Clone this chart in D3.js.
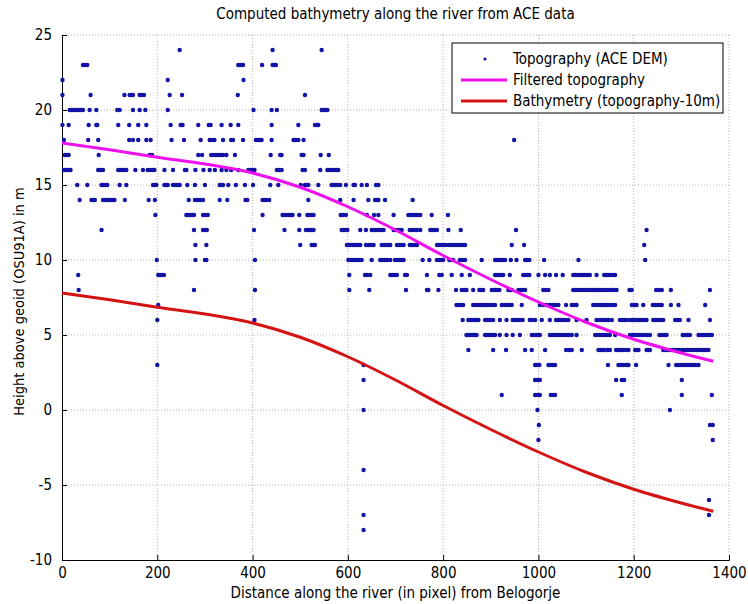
<!DOCTYPE html>
<html>
<head>
<meta charset="utf-8">
<script src="https://cdn.jsdelivr.net/npm/d3@7"></script>
<style>
  body { margin: 0; background: #fff; }
  text { font-family: "Liberation Sans Narrow", "Arial Narrow", "DejaVu Sans Condensed", sans-serif; fill: #000; }
</style>
</head>
<body>
<div id="chart"></div>
<script>
// Axis ticks
const xTicks = [0, 200, 400, 600, 800, 1000, 1200, 1400];
const yTicks = [-10, -5, 0, 5, 10, 15, 20, 25];

// Filtered topography curve and bathymetry (topography - 10 m)
const curveX = [0, 100, 200, 300, 400, 500, 600, 700, 800, 900, 1000, 1100, 1200, 1300, 1367];
const filteredY = [17.8, 17.35, 16.85, 16.4, 15.8, 14.85, 13.55, 12.0, 10.3, 8.7, 7.2, 5.85, 4.72, 3.8, 3.25];
const bathyY = [7.8, 7.35, 6.85, 6.4, 5.8, 4.85, 3.55, 2.0, 0.3, -1.3, -2.8, -4.15, -5.28, -6.2, -6.75];

// ACE DEM samples: one row per height (m), distances along the river
const topoRows = [
  [24, [247, 442, 545]],
  [23, [44, 48, 53, 370, 375, 380, 420, 442, 446, 449]],
  [22, [1, 222, 381]],
  [21, [1, 60, 131, 142, 146, 149, 163, 167, 172, 226, 252, 369, 510]],
  [20, [16, 20, 24, 28, 32, 36, 40, 44, 58, 72, 116, 121, 149, 163, 175, 222, 402, 440, 451, 545, 549, 553, 557]],
  [19, [1, 14, 56, 72, 74, 118, 141, 160, 177, 228, 249, 253, 286, 308, 312, 335, 354, 370, 440, 496, 531, 535, 538]],
  [18, [4, 55, 76, 141, 149, 160, 177, 186, 230, 256, 291, 310, 315, 320, 338, 355, 359, 380, 407, 411, 415, 419, 440, 486, 491, 496, 507, 949]],
  [17, [6, 10, 14, 77, 184, 189, 286, 294, 313, 318, 323, 328, 333, 338, 345, 363, 438, 458, 461, 503, 507, 543, 560]],
  [16, [4, 8, 12, 16, 18, 76, 81, 86, 118, 122, 126, 130, 135, 154, 170, 180, 185, 190, 194, 215, 233, 258, 261, 280, 297, 310, 321, 335, 345, 355, 370, 391, 395, 400, 404, 451, 456, 461, 505, 510, 542, 557, 561, 565, 569, 573, 577, 580]],
  [15, [32, 53, 83, 87, 91, 95, 121, 135, 191, 195, 198, 215, 219, 222, 233, 237, 241, 245, 247, 263, 279, 300, 331, 335, 338, 349, 365, 384, 401, 437, 454, 501, 510, 514, 517, 538, 566, 570, 574, 578, 584, 596, 612, 615, 629, 640, 659, 664]],
  [14, [37, 62, 66, 69, 86, 90, 94, 98, 102, 106, 110, 132, 182, 195, 266, 279, 284, 290, 296, 331, 347, 385, 389, 421, 425, 429, 435, 517, 584, 612, 643, 657, 661, 664, 678, 736]],
  [13, [196, 261, 265, 269, 273, 277, 296, 301, 306, 421, 463, 467, 471, 476, 480, 484, 498, 515, 519, 523, 528, 585, 590, 596, 640, 655, 664, 696, 727, 731, 735, 739, 743, 747, 752, 776, 810]],
  [12, [83, 277, 296, 300, 304, 403, 467, 498, 512, 516, 520, 524, 528, 587, 591, 595, 599, 626, 638, 650, 654, 658, 662, 666, 670, 675, 696, 700, 705, 709, 713, 730, 735, 740, 745, 752, 773, 777, 782, 787, 811, 837, 953, 1227]],
  [11, [280, 303, 500, 524, 528, 531, 598, 602, 606, 610, 614, 618, 622, 626, 638, 643, 648, 654, 671, 676, 681, 685, 689, 703, 708, 712, 717, 730, 735, 740, 745, 787, 791, 796, 801, 806, 812, 818, 824, 830, 836, 841, 846, 944, 970, 1222]],
  [10, [199, 280, 300, 303, 405, 601, 605, 609, 613, 617, 621, 625, 629, 650, 668, 673, 678, 683, 689, 699, 704, 709, 713, 717, 757, 771, 787, 792, 796, 800, 813, 817, 821, 835, 840, 846, 881, 909, 913, 917, 921, 925, 930, 942, 954, 972, 976, 981, 1012, 1084, 1224]],
  [9, [34, 202, 206, 210, 214, 603, 636, 641, 647, 689, 694, 698, 703, 720, 724, 766, 792, 797, 818, 839, 856, 909, 913, 917, 922, 926, 940, 968, 972, 977, 981, 1000, 1014, 1024, 1037, 1051, 1073, 1078, 1083, 1088, 1093, 1098, 1103, 1108, 1122, 1138, 1142, 1146, 1150, 1155, 1161]],
  [8, [35, 277, 405, 603, 645, 722, 766, 769, 790, 827, 839, 844, 849, 863, 876, 880, 884, 902, 906, 910, 914, 918, 937, 941, 944, 958, 963, 968, 972, 1010, 1015, 1021, 1073, 1078, 1083, 1088, 1093, 1098, 1103, 1108, 1113, 1118, 1123, 1128, 1133, 1138, 1143, 1148, 1153, 1158, 1164, 1191, 1196, 1247, 1253, 1259, 1278, 1360]],
  [7, [202, 828, 832, 837, 842, 863, 868, 873, 878, 883, 888, 893, 898, 903, 909, 923, 928, 933, 938, 944, 965, 1003, 1010, 1017, 1024, 1030, 1036, 1042, 1058, 1070, 1075, 1080, 1115, 1120, 1125, 1130, 1135, 1140, 1145, 1150, 1155, 1161, 1196, 1201, 1206, 1220, 1240, 1245, 1250, 1255, 1259, 1278, 1294, 1350]],
  [6, [200, 404, 841, 853, 857, 862, 866, 870, 874, 888, 892, 897, 901, 905, 919, 933, 946, 951, 956, 961, 967, 982, 987, 993, 1007, 1024, 1037, 1042, 1047, 1052, 1057, 1063, 1080, 1101, 1122, 1127, 1132, 1137, 1142, 1147, 1154, 1171, 1176, 1180, 1185, 1192, 1197, 1202, 1207, 1212, 1217, 1222, 1227, 1241, 1246, 1251, 1256, 1262, 1287, 1292, 1297, 1315, 1360]],
  [5, [849, 853, 857, 862, 866, 870, 888, 892, 897, 901, 905, 909, 919, 933, 946, 961, 986, 990, 995, 999, 1003, 1024, 1029, 1034, 1039, 1044, 1049, 1054, 1059, 1064, 1070, 1080, 1119, 1124, 1129, 1134, 1139, 1145, 1150, 1161, 1192, 1197, 1202, 1207, 1212, 1217, 1222, 1228, 1234, 1254, 1259, 1264, 1269, 1303, 1308, 1313, 1318, 1336, 1341, 1346, 1351, 1356, 1360, 1364]],
  [4, [853, 905, 932, 972, 986, 1014, 1058, 1064, 1070, 1091, 1126, 1130, 1134, 1138, 1145, 1150, 1163, 1168, 1173, 1178, 1184, 1189, 1203, 1207, 1210, 1227, 1231, 1234, 1262, 1267, 1272, 1277, 1282, 1287, 1292, 1297, 1302, 1307, 1312, 1317, 1322, 1327, 1332, 1337, 1342, 1347, 1352, 1357]],
  [3, [200, 633, 993, 997, 1002, 1021, 1026, 1030, 1035, 1146, 1168, 1173, 1178, 1184, 1189, 1205, 1273, 1289, 1294, 1299, 1304, 1309, 1314, 1319, 1324, 1330, 1336]],
  [2, [633, 993, 998, 1003, 1163, 1175, 1180, 1301]],
  [1, [923, 993, 998, 1003, 1026, 1031, 1035, 1175, 1301, 1364]],
  [0, [633, 998, 1276]],
  [-1, [1001, 1360, 1366]],
  [-2, [1000, 1366]],
  [-4, [633]],
  [-6, [1358]],
  [-7, [633, 1358]],
  [-8, [633]]
];

const legendLabels = ["Topography (ACE DEM)", "Filtered topography", "Bathymetry (topography-10m)"];

const width = 748, height = 604;
const margin = { top: 35, right: 19, bottom: 44, left: 62 };
const plotW = width - margin.left - margin.right;
const plotH = height - margin.top - margin.bottom;

const dotColor = "#1212a6", magenta = "#ee11ee", red = "#d41414";
const font = "'Liberation Sans Narrow', 'Arial Narrow', 'DejaVu Sans Condensed', sans-serif";

const svg = d3.select("#chart").append("svg")
  .attr("width", width)
  .attr("height", height);

const g = svg.append("g")
  .attr("transform", "translate(" + margin.left + "," + margin.top + ")");

const x = d3.scaleLinear().domain([0, 1400]).range([0, plotW]);
const y = d3.scaleLinear().domain([-10, 25]).range([plotH, 0]);

// Dotted grid
g.append("g")
  .selectAll("line")
  .data(xTicks.slice(1))
  .join("line")
  .attr("x1", d => x(d)).attr("x2", d => x(d))
  .attr("y1", 0).attr("y2", plotH)
  .attr("stroke", "#b4b4b4").attr("stroke-dasharray", "1,2");

g.append("g")
  .selectAll("line")
  .data(yTicks.slice(1))
  .join("line")
  .attr("x1", 0).attr("x2", plotW)
  .attr("y1", d => y(d)).attr("y2", d => y(d))
  .attr("stroke", "#b4b4b4").attr("stroke-dasharray", "1,2");

// Axes (MATLAB style: ticks inside, plain hyphen minus)
const xAxis = g.append("g")
  .attr("transform", "translate(0," + plotH + ")")
  .call(d3.axisBottom(x).tickValues(xTicks).tickSize(-5).tickPadding(10).tickFormat(d => String(d)));
const yAxis = g.append("g")
  .call(d3.axisLeft(y).tickValues(yTicks).tickSize(-5).tickPadding(10).tickFormat(d => String(d)));

[xAxis, yAxis].forEach(a => {
  a.select(".domain").attr("stroke", "#000");
  a.selectAll(".tick line").attr("stroke", "#000");
  a.selectAll(".tick text").attr("font-size", 15).attr("fill", "#000")
    .style("font-family", font);
});
xAxis.selectAll(".tick text").attr("dy", "0.5em");

// Scatter of DEM samples
const topoPoints = topoRows.flatMap(r => r[1].map(d => ({ dist: d, h: r[0] })));
g.append("g")
  .selectAll("circle")
  .data(topoPoints)
  .join("circle")
  .attr("cx", d => x(d.dist))
  .attr("cy", d => y(d.h))
  .attr("r", 2.2)
  .attr("fill", dotColor);

// Curves
const line = d3.line()
  .x(d => x(d[0]))
  .y(d => y(d[1]))
  .curve(d3.curveCatmullRom);

g.append("path")
  .datum(curveX.map((d, i) => [d, filteredY[i]]))
  .attr("d", line)
  .attr("fill", "none")
  .attr("stroke", magenta)
  .attr("stroke-width", 3);

g.append("path")
  .datum(curveX.map((d, i) => [d, bathyY[i]]))
  .attr("d", line)
  .attr("fill", "none")
  .attr("stroke", red)
  .attr("stroke-width", 3);

// Title and axis labels
svg.append("text")
  .attr("x", margin.left + plotW / 2)
  .attr("y", 19)
  .attr("text-anchor", "middle")
  .attr("font-size", 15)
  .text("Computed bathymetry along the river from ACE data");

svg.append("text")
  .attr("x", margin.left + plotW / 2)
  .attr("y", 598)
  .attr("text-anchor", "middle")
  .attr("font-size", 15)
  .text("Distance along the river (in pixel) from Belogorje");

svg.append("text")
  .attr("transform", "translate(24," + (margin.top + plotH / 2 + 4) + ") rotate(-90)")
  .attr("text-anchor", "middle")
  .attr("font-size", 14.5)
  .text("Height above geoid (OSU91A) in m");

// Legend
const legend = svg.append("g")
  .attr("transform", "translate(452,43)");

legend.append("rect")
  .attr("width", 271)
  .attr("height", 70)
  .attr("fill", "#fff")
  .attr("stroke", "#000");

const rowY = [16, 37, 58];
legend.append("circle")
  .attr("cx", 33).attr("cy", rowY[0]).attr("r", 1.6)
  .attr("fill", dotColor);
[magenta, red].forEach((c, i) => {
  legend.append("line")
    .attr("x1", 9).attr("x2", 55)
    .attr("y1", rowY[i + 1]).attr("y2", rowY[i + 1])
    .attr("stroke", c).attr("stroke-width", 3);
});
legend.selectAll(".legend-label")
  .data(legendLabels)
  .join("text")
  .attr("class", "legend-label")
  .attr("x", 61)
  .attr("y", (d, i) => rowY[i] + 5)
  .attr("font-size", 15)
  .text(d => d);
</script>
</body>
</html>
